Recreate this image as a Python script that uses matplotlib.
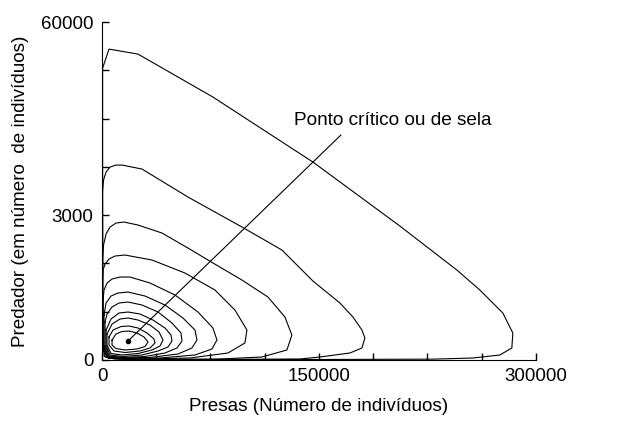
import matplotlib.pyplot as plt

plt.rcParams['font.family'] = ['Liberation Sans', 'DejaVu Sans']

# orbits (presas, predador)
orbit1_x = [400, 4838, 24883, 76723, 145843, 205978, 245376, 261274, 277171, 284083, 283392, 275098, 256435, 228787, 136858, 67738, 19354, 4147, 691, 500, 400]
orbit1_y = [51830, 55203, 54315, 46683, 35145, 23785, 15975, 12425, 8343, 4793, 2130, 888, 355, 150, 80, 60, 60, 355, 1775, 10650, 37275]
orbit2_x = [300, 1037, 2764, 5528, 9674, 13824, 27648, 59443, 96768, 124416, 145843, 164506, 173491, 179712, 181786, 179712, 171418, 150682, 136858, 67738, 19354, 4147, 691, 400]
orbit2_y = [29820, 31950, 33370, 34258, 34613, 34613, 33903, 28933, 23608, 19525, 14023, 10118, 7633, 5325, 3905, 2130, 1243, 533, 178, 90, 100, 355, 2663, 19525]
orbit3_x = [346, 1037, 2764, 5528, 9674, 15202, 24876, 41460, 59426, 73246, 96740, 114706, 126453, 131290, 127835, 110560, 81538, 33168, 8983, 2073, 346]
orbit3_y = [17750, 20413, 22365, 23608, 24318, 24495, 23963, 22543, 19880, 17750, 14200, 11183, 7633, 4438, 1775, 533, 178, 89, 178, 533, 3550]
orbit4_x = [300, 691, 2073, 4837, 8983, 15893, 34550, 57353, 78083, 91903, 100195, 98813, 87066, 60808, 26258, 6910, 1382, 346]
orbit4_y = [13500, 15975, 17040, 17928, 18460, 18638, 17750, 15443, 12425, 8875, 5325, 3018, 1243, 355, 178, 266, 710, 5325]
orbit5_x = [691, 1382, 3455, 6910, 12438, 19348, 33168, 50443, 66336, 76701, 79465, 76010, 64263, 40078, 15893, 4146, 691]
orbit5_y = [10650, 12425, 13668, 14378, 14733, 14733, 13668, 11538, 8520, 5680, 3550, 1953, 888, 355, 266, 533, 2663]
orbit6_x = [1382, 2764, 6219, 11056, 17966, 29713, 43533, 55971, 64263, 65645, 62190, 52516, 33168, 14511, 4146, 1382]
orbit6_y = [7988, 10118, 11360, 11893, 12070, 11360, 9763, 7455, 5325, 3550, 2130, 1065, 444, 355, 621, 2663]
orbit7_x = [2073, 3455, 6910, 11747, 17966, 27640, 38696, 48370, 54589, 55280, 51825, 43533, 29713, 14511, 4837, 2073]
orbit7_y = [6745, 8165, 9408, 10118, 10295, 9763, 8520, 6568, 4793, 3373, 2130, 1243, 621, 444, 710, 2663]
orbit8_x = [2764, 6219, 11747, 17966, 26258, 35241, 43533, 47679, 48370, 45606, 38696, 27640, 14511, 5528, 2764]
orbit8_y = [5325, 7278, 8343, 8520, 8165, 7100, 5680, 4438, 3373, 2308, 1598, 888, 621, 888, 2663]
orbit9_x = [3455, 6910, 12438, 17966, 24876, 33168, 39387, 42151, 40078, 34550, 24876, 13820, 6219, 3455]
orbit9_y = [4615, 6390, 7278, 7455, 7100, 6213, 4970, 3550, 2485, 1775, 1154, 888, 1154, 2663]
orbit10_x = [4837, 7601, 13129, 18657, 24876, 31095, 35932, 36623, 33168, 26258, 15893, 8292, 4837]
orbit10_y = [4083, 5325, 5946, 6035, 5680, 4793, 3728, 3018, 2130, 1598, 1331, 1598, 2663]
orbit11_x = [6910, 9674, 13820, 18657, 24185, 29022, 31786, 29713, 24185, 15893, 9674, 6910]
orbit11_y = [3550, 4615, 5059, 5148, 4793, 4083, 3195, 2396, 1953, 1775, 2041, 2663]

orbits_x = [orbit1_x, orbit2_x, orbit3_x, orbit4_x, orbit5_x, orbit6_x,
            orbit7_x, orbit8_x, orbit9_x, orbit10_x, orbit11_x]
orbits_y = [orbit1_y, orbit2_y, orbit3_y, orbit4_y, orbit5_y, orbit6_y,
            orbit7_y, orbit8_y, orbit9_y, orbit10_y, orbit11_y]

ponto_x = 17966
ponto_y = 3373
texto_x = 165149
texto_y = 39938

xticks = [0, 37500, 75000, 112500, 150000, 187500, 225000, 262500, 300000]
xlabels = ['0', '', '', '', '150000', '', '', '', '300000']
yticks = [i * 60000 / 7 for i in range(8)]
ylabels = ['0', '', '', '3000', '', '', '', '60000']

fig = plt.figure(figsize=(6.26, 4.33), dpi=100)
ax = fig.add_axes([0.163, 0.1686, 0.693, 0.7804])

for ox, oy in zip(orbits_x, orbits_y):
    ax.plot(ox + [ox[0]], oy + [oy[0]], color='black', lw=0.8)

# ponto critico
ax.plot([ponto_x], [ponto_y], 'o', color='black', ms=3)
ax.plot([ponto_x, texto_x], [ponto_y, texto_y], color='black', lw=0.8)
ax.text(132672, 42600, 'Ponto crítico ou de sela', fontsize=13.7, va='center', ha='left')

ax.set_xlim(0, 300000)
ax.set_ylim(0, 60000)
ax.set_xticks(xticks)
ax.set_xticklabels(xlabels)
ax.set_yticks(yticks)
ax.set_yticklabels(ylabels)
ax.tick_params(direction='in', length=5, width=1, labelsize=13.5, pad=6)
ax.spines['top'].set_visible(False)
ax.spines['right'].set_visible(False)
ax.set_xlabel('Presas (Número de indivíduos)', fontsize=13.6, labelpad=9)
ax.set_ylabel('Predador (em número  de indivíduos)', fontsize=13.6, labelpad=9)

fig.savefig('out.png', dpi=100)
